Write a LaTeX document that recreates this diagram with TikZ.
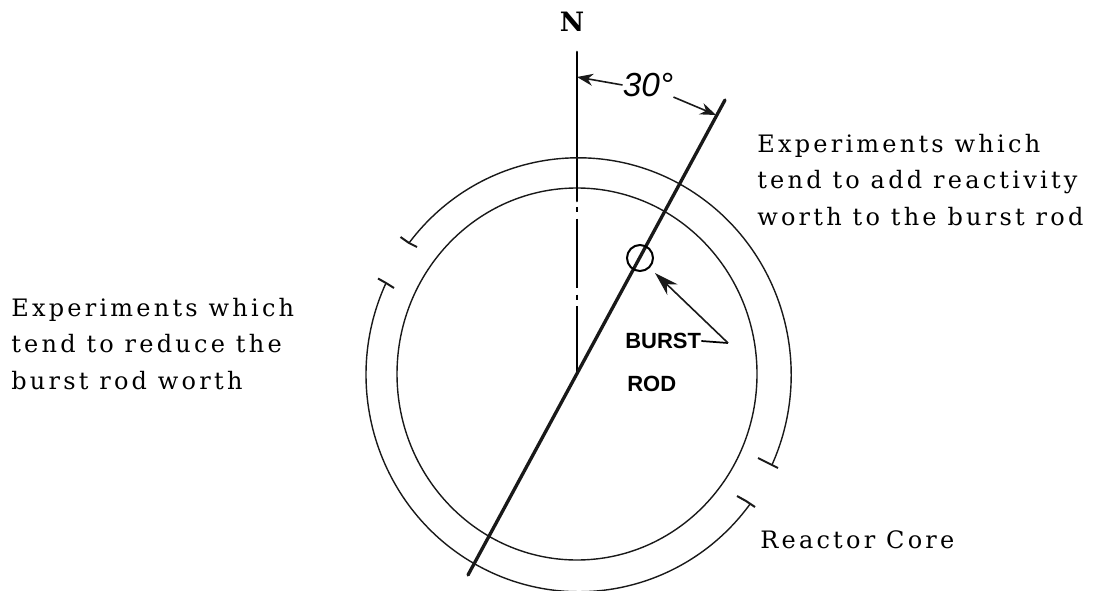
\documentclass[tikz,border=0pt]{standalone}
\usepackage{fontspec}
\setmainfont{DejaVu Serif}[LetterSpace=13.5]
\setsansfont{Liberation Sans}
\usetikzlibrary{arrows.meta}

\begin{document}
\begin{tikzpicture}[
  x=0.75pt, y=-0.75pt,
  thin line/.style={line width=1.05pt, draw=black!90},
  rod line/.style={line width=2.5pt, line cap=round, draw=black!90},
  tick line/.style={line width=1.5pt, draw=black!90},
  lead/.style={line width=1.2pt, draw=black!90, -{Stealth[length=12pt,width=9pt]}},
  note/.style={font=\fontsize{18}{27.2}\selectfont, align=left, anchor=north west, inner sep=0pt},
  hand/.style={font=\sffamily\bfseries\fontsize{16.5}{16.5}\selectfont, inner sep=0pt, anchor=west},
]
\useasboundingbox (0,0) rectangle (1094,591);
% ---------- core and north line ----------
\coordinate (ctr) at (577,374);
\draw[thin line] (ctr) ellipse (180 and 186);
\draw[line width=2pt, line cap=round] (577,52) -- (577,201);
\draw[line width=1.6pt, dash pattern=on 3.75pt off 5pt on 52pt off 5pt] (577,207) -- (ctr);
% ---------- outer arcs ----------
\coordinate (tickA) at (409,243);
\coordinate (tickB) at (768,463);
\coordinate (tickC) at (386,283);
\coordinate (tickD) at (746,501);
\draw[thin line] (tickA) arc[start angle=217.4, delta angle=167.2, x radius=213, y radius=217];
\draw[thin line] (tickC) arc[start angle=205, delta angle=-168.6, x radius=213, y radius=217];
\draw[tick line] (400.5,237) -- (tickA) -- (417,247);
\draw[tick line] (378,278.5) -- (tickC) -- (394,288);
\draw[tick line] (758,458) -- (tickB) -- (778,468);
\draw[tick line] (737,496) -- (tickD) -- (755,507);
% ---------- rod ----------
\coordinate (rodN) at (725,100);
\coordinate (rodS) at (468,575);
\draw[rod line] (rodN) -- (rodS);
\draw[line width=1.5pt] (640,258) circle (13);
% ---------- labels ----------
\node[font=\bfseries\fontsize{20}{20}\selectfont, inner sep=0pt] (north) at (572,22) {N};
\node[font=\sffamily\itshape\fontsize{25}{25}\selectfont, inner sep=0pt] (angle) at (648,85) {30°};
\coordinate (tipW) at (577,77);
\coordinate (tipE) at (716,115);
\draw[lead] (angle.west) -- (tipW);
\draw[lead] (angle.south east) -- (tipE);
\node[hand] (burst) at (625,341) {BURST};
\node[hand] (rod) at (627,384) {ROD};
\coordinate (apex) at (728,343);
\coordinate (tipR) at (655,273);
\draw[line width=1.3pt, line join=miter] (burst.east) -- (apex);
\draw[lead, -{Stealth[length=18pt,width=11pt]}] (apex) -- (tipR);
\node[note] (add) at (757,134) {Experiments which\\tend to add reactivity\\worth to the burst rod};
\node[note] (reduce) at (11,298) {Experiments which\\tend to reduce the\\burst rod worth};
\node[note, anchor=base west] (core) at (760,548) {Reactor Core};
\end{tikzpicture}
\end{document}
